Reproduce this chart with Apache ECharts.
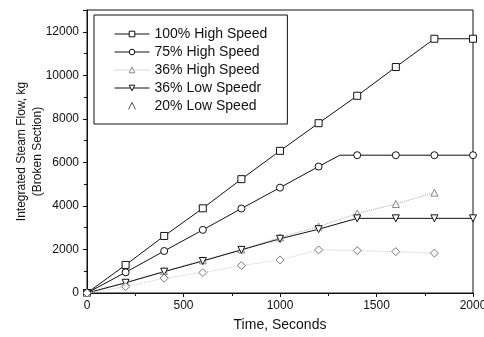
<!DOCTYPE html>
<html>
<head>
<meta charset="utf-8">
<script src="https://cdn.jsdelivr.net/npm/echarts@6/dist/echarts.min.js"></script>
<style>
  html, body { margin: 0; padding: 0; background: #fff; }
  #chart { width: 484px; height: 337px; }
</style>
</head>
<body>
<div id="chart"></div>
<script>
// time points (s)
const times = [0, 200, 400, 600, 800, 1000, 1200, 1400, 1600, 1800, 2000];

// integrated steam flow, kg
const hs100 = [0, 1290, 2620, 3890, 5230, 6530, 7800, 9060, 10380, 11680, 11680];
const hs75 = [0, 950, 1930, 2900, 3880, 4840, 5810, 6330, 6330, 6330, 6330];
const hs75Knee = [1310, 6330];
const hs36 = [0, 480, 1000, 1500, 2000, 2550, 3050, 3650, 4090, 4610];
const ls36 = [0, 470, 980, 1470, 1980, 2490, 2930, 3430, 3430, 3430, 3430];
const ls20 = [0, 290, 680, 940, 1260, 1520, 1980, 1950, 1900, 1830];

const names = ['100% High Speed', '75% High Speed', '36% High Speed', '36% Low Speedr', '20% Low Speed'];

const yTicks = [0, 2000, 4000, 6000, 8000, 10000, 12000];
const xTicks = [0, 500, 1000, 1500, 2000];

function pairs(vals) {
  return vals.map((v, i) => [times[i], v]);
}

// 75% curve bends between markers
const hs75Data = pairs(hs75);
hs75Data.splice(7, 0, { value: hs75Knee, symbol: 'none' });

const chart = echarts.init(document.getElementById('chart'));

const font = 'Liberation Sans, Arial, sans-serif';

function solid(name, data, symbol, rotate) {
  return {
    name: name,
    type: 'line',
    data: data,
    symbol: symbol,
    symbolRotate: rotate || 0,
    symbolSize: 7,
    showAllSymbol: true,
    lineStyle: { color: '#111', width: 1 },
    itemStyle: { color: '#fff', borderColor: '#111', borderWidth: 1 }
  };
}

const option = {
  animation: false,
  backgroundColor: '#fff',
  grid: {
    left: 87, right: 11, top: 10, bottom: 44,
    outerBoundsMode: 'none',
    show: true, borderColor: '#111', borderWidth: 1
  },
  legend: {
    orient: 'vertical',
    left: 94, top: 15,
    padding: [12, 20, 11, 20],
    borderColor: '#111', borderWidth: 1,
    itemWidth: 35, itemHeight: 7, itemGap: 4,
    lineStyle: { width: 1 },
    itemStyle: { borderWidth: 1 },
    textStyle: { fontFamily: font, fontSize: 14, color: '#111', lineHeight: 14, height: 14 },
    data: [
      names[0], names[1], names[2], names[3],
      {
        name: names[4],
        icon: 'path://M0,8L4,0L8,8',
        itemStyle: { color: 'none', borderColor: '#555', borderWidth: 1 }
      }
    ]
  },
  xAxis: {
    type: 'value',
    min: 0, max: 2000, interval: 500,
    name: 'Time, Seconds',
    nameLocation: 'middle',
    nameGap: 25,
    nameTextStyle: { fontFamily: font, fontSize: 14, color: '#111' },
    axisLine: { lineStyle: { color: '#111' } },
    axisTick: { show: true, inside: false, length: 4, lineStyle: { color: '#111' } },
    minorTick: { show: true, splitNumber: 2, length: 3, lineStyle: { color: '#111' } },
    splitLine: { show: false },
    axisLabel: {
      margin: 7, fontFamily: font, fontSize: 12, color: '#111',
      formatter: v => xTicks.includes(v) ? String(v) : ''
    }
  },
  yAxis: {
    type: 'value',
    min: 0, max: 13000, interval: 2000,
    name: 'Integrated Steam Flow, kg\n(Broken Section)',
    nameLocation: 'middle',
    nameGap: 41,
    nameMoveOverlap: false,
    nameTextStyle: { fontFamily: font, fontSize: 12, color: '#111', lineHeight: 16 },
    axisLine: { show: true, lineStyle: { color: '#111' } },
    axisTick: { show: true, inside: false, length: 4, lineStyle: { color: '#111' } },
    minorTick: { show: true, splitNumber: 2, length: 3, lineStyle: { color: '#111' } },
    splitLine: { show: false },
    axisLabel: {
      margin: 8, fontFamily: font, fontSize: 12, color: '#111',
      showMaxLabel: false,
      formatter: v => yTicks.includes(v) ? String(v) : ''
    }
  },
  series: [
    solid(names[0], pairs(hs100), 'rect'),
    solid(names[1], hs75Data, 'circle'),
    {
      name: names[2],
      type: 'line',
      data: pairs(hs36),
      symbol: 'triangle',
      symbolSize: 7,
      lineStyle: { color: '#aaa', width: 1, type: 'dotted' },
      itemStyle: { color: '#fff', borderColor: '#888', borderWidth: 1 }
    },
    solid(names[3], pairs(ls36), 'triangle', 180),
    {
      name: names[4],
      type: 'line',
      data: pairs(ls20),
      symbol: 'diamond',
      symbolSize: 8,
      lineStyle: { color: '#ccc', width: 1, type: 'dotted' },
      itemStyle: { color: '#fff', borderColor: '#777', borderWidth: 1 }
    }
  ]
};

chart.setOption(option);
</script>
</body>
</html>
